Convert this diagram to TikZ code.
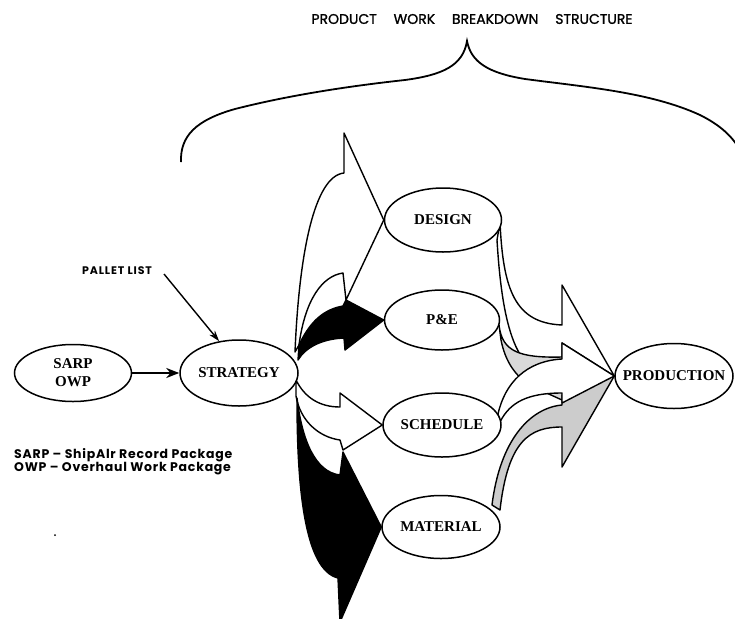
\documentclass[tikz,border=0pt]{standalone}
\usepackage{fontspec}
\setmainfont{Liberation Serif}
\newfontfamily\poptitle{Poppins}[FakeBold=1.2]
\newfontfamily\popleg{Poppins}[LetterSpace=6]
\newfontfamily\poppal{Poppins}[LetterSpace=8]
\usetikzlibrary{shapes.geometric,arrows.meta}
\pgfdeclarelayer{bg}
\pgfsetlayers{bg,main}
\newcommand{\serbf}{\fontsize{15}{18}\selectfont\bfseries}
\begin{document}
\begin{tikzpicture}[x=1pt,y=-1pt,
  ell/.style={ellipse, draw, line width=1.5pt, fill=white, inner sep=0pt},
  lab/.style={font=\serbf, align=center, inner sep=0pt},
  edge/.style={line width=1.4pt, line join=round},
  titlestyle/.style={font=\poptitle\fontsize{14}{16}\selectfont, inner sep=0pt},
  legstyle/.style={font=\popleg\bfseries\fontsize{12.5}{13}\selectfont, align=left, inner sep=0pt},
  palstyle/.style={font=\poppal\bfseries\fontsize{11}{12}\selectfont, inner sep=0pt}
]
\useasboundingbox (0,0) rectangle (735,618);

% ellipses
\node[ell, minimum width=117pt, minimum height=57pt] (sarp) at (73,373) {};
\node[lab] (sarptxt) at (sarp) {SARP\\OWP};
\node[ell, minimum width=118pt, minimum height=66pt] (strategy) at (239,373) {};
\node[lab] (strategytxt) at (strategy) {STRATEGY};
\node[ell, minimum width=117pt, minimum height=64pt] (design) at (443,220) {};
\node[lab] (designtxt) at (design) {DESIGN};
\node[ell, minimum width=115pt, minimum height=60pt] (pe) at (442,320) {};
\node[lab] (petxt) at (pe) {P\&E};
\node[ell, minimum width=118pt, minimum height=64pt] (schedule) at (442,425) {};
\node[lab] (scheduletxt) at (schedule) {SCHEDULE};
\node[ell, minimum width=118pt, minimum height=63pt] (material) at (441,527) {};
\node[lab] (materialtxt) at (material) {MATERIAL};
\node[ell, minimum width=118pt, minimum height=65pt] (production) at (674,376) {};
\node[lab] (productiontxt) at (production) {PRODUCTION};

% block arrows (behind ellipses)
\begin{pgfonlayer}{bg}
% left fan
\draw[edge, fill=white] (295,352) .. controls (299,255) and (314,176) .. (344,173)
  -- (344,133) -- (design.west) -- (346,300) -- (343,273)
  .. controls (322,276) and (305,300) .. (299,345) -- cycle;
\draw[edge, fill=black] (299,345) .. controls (311,319) and (326,309) .. (343,306)
  -- (346,300) -- (pe.west) -- (345,350) -- (344,338)
  .. controls (322,339) and (306,347) .. (298,360) -- cycle;
\draw[edge, fill=white] (296,380) .. controls (305,398) and (320,407) .. (340,407)
  -- (340,393) -- (schedule.west) -- (343,450) -- (340,440)
  .. controls (318,437) and (300,420) .. (296,396) -- cycle;
\draw[edge, fill=black] (297,398) .. controls (302,440) and (315,472) .. (340,475)
  -- (343,452) -- (material.west) -- (340,622) -- (338,578)
  .. controls (305,570) and (297,490) .. (297,400) -- cycle;
% right fan
\draw[edge, fill=white] (500,222) .. controls (503,290) and (515,323) .. (562,325)
  -- (562,285) -- (production.west) -- (562,395) -- (562,380)
  .. controls (520,378) and (503,340) .. (497,240) -- cycle;
\draw[edge, fill=gray!30] (499,325) .. controls (502,352) and (520,358) .. (562,357)
  -- (562,343) -- (production.west) -- (562,400) -- (540,390)
  .. controls (515,380) and (505,360) .. (501,340) -- cycle;
\draw[edge, fill=gray!40] (492,505) .. controls (500,440) and (530,408) .. (562,405)
  -- (562,395) -- (production.west) -- (562,467) -- (562,427)
  .. controls (530,427) and (508,440) .. (500,510) -- cycle;
\draw[edge, fill=white] (498,414) .. controls (505,383) and (526,361) .. (562,359)
  -- (562,343) -- (production.west) -- (562,403) -- (562,393)
  .. controls (528,393) and (510,402) .. (500,422) -- cycle;
\end{pgfonlayer}

% connectors
\draw[line width=2.2pt, -{Stealth[length=13pt,width=10pt]}] (sarp) -- (strategy);
\node[palstyle] (pallet) at (117,271) {PALLET LIST};
\coordinate (palletend) at (164,274);
\draw[line width=1.4pt, -{Stealth[length=11pt,width=7pt]}] (palletend) -- (strategy.122);

% brace and title
\node[titlestyle] (title) at (472,19) {PRODUCT\hspace{1.2em}WORK\hspace{1.2em}BREAKDOWN\hspace{1.2em}STRUCTURE};
\draw[line width=1.8pt] (181,162) .. controls (180,136) and (196,120) .. (235,109)
  .. controls (290,95) and (350,86) .. (405,80)
  .. controls (442,75) and (463,66) .. (467,41)
  .. controls (471,62) and (488,73) .. (525,79)
  .. controls (585,87) and (650,92) .. (700,115)
  .. controls (720,125) and (732,136) .. (740,150);

% legend
\node[legstyle, anchor=north west] (legend) at (14,448) {SARP – ShipAlr Record Package\\OWP – Overhaul Work Package};
\fill (55,535) circle (1);
\end{tikzpicture}
\end{document}
